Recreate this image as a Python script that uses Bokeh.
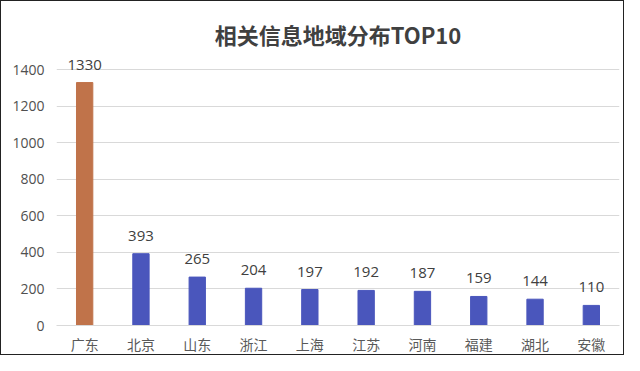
from bokeh.plotting import figure
from bokeh.models import ColumnDataSource, Range1d, FixedTicker, LabelSet, Title
from bokeh.core.properties import value
from bokeh.embed import file_html
from bokeh.resources import INLINE

regions = ["广东", "北京", "山东", "浙江", "上海", "江苏", "河南", "福建", "湖北", "安徽"]
counts = [1330, 393, 265, 204, 197, 192, 187, 159, 144, 110]
bar_colors = ["#C0734A"] + ["#4A56BC"] * 9
y_ticks = [0, 200, 400, 600, 800, 1000, 1200, 1400]
title_text = "相关信息地域分布TOP10"

src = ColumnDataSource(dict(x=regions, y=counts, c=bar_colors, t=[str(v) for v in counts]))

p = figure(x_range=regions, y_range=Range1d(0, 1500), width=624, height=355,
           output_backend="svg", toolbar_location=None,
           min_border_left=55, min_border_right=6, min_border_top=50, min_border_bottom=30)
p.styles = {"border": "1px solid #222222"}

p.vbar(x="x", top="y", width=0.29, color="c", source=src)

labels = LabelSet(x="x", y="y", text="t", source=src, text_align="center",
                  text_baseline="bottom", y_offset=13, text_font_size="15px",
                  text_color="#404040", text_font=value("Open Sans"))
p.add_layout(labels)

p.title = None
t = Title(text=title_text, align="center", text_font_size="22px", text_font_style="bold",
          text_color="#404040", text_font="Noto Sans CJK SC", offset=0, standoff=4)
p.add_layout(t, "above")

p.outline_line_color = None
p.xgrid.grid_line_color = None
p.ygrid.grid_line_color = "#D9D9D9"
p.ygrid.grid_line_width = 1

p.yaxis.ticker = FixedTicker(ticks=y_ticks)
p.yaxis.axis_line_color = None
p.yaxis.major_tick_line_color = None
p.yaxis.minor_tick_line_color = None
p.yaxis.major_label_standoff = 6
p.yaxis.major_label_text_font_size = "14px"
p.yaxis.major_label_text_color = "#505050"
p.yaxis.major_label_text_font = "Open Sans"

p.xaxis.axis_line_color = "#D9D9D9"
p.xaxis.major_tick_line_color = None
p.xaxis.minor_tick_line_color = None
p.xaxis.major_label_standoff = 2
p.xaxis.major_label_text_font_size = "14px"
p.xaxis.major_label_text_color = "#595959"
p.xaxis.major_label_text_font = "Noto Sans CJK SC"
p.x_range.range_padding = 0

open("out.html", "w").write(file_html(p, INLINE))
